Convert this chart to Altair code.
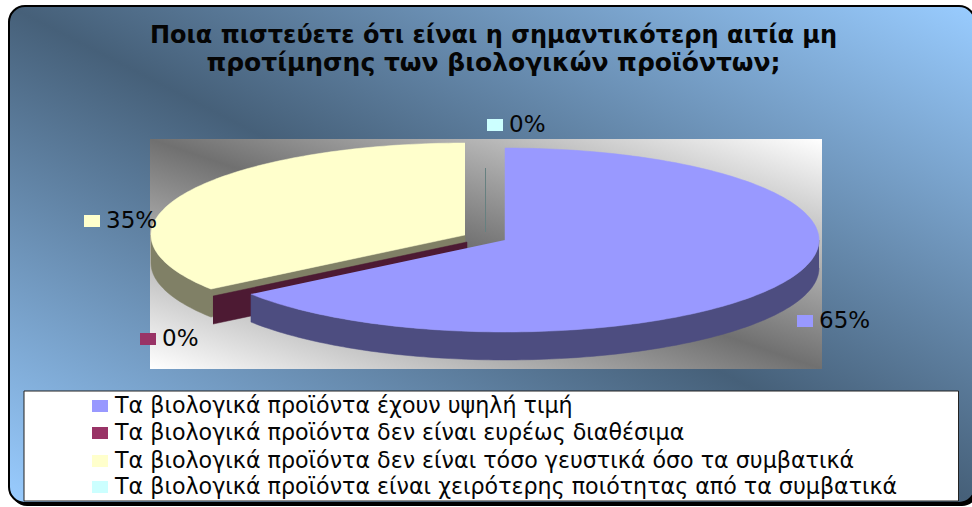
import math
import altair as alt
import pandas as pd

TITLE_LINES = [
    "Ποια πιστεύετε ότι είναι η σημαντικότερη αιτία μη",
    "προτίμησης των βιολογικών προϊόντων;",
]
CATEGORIES = [
    "Τα βιολογικά προϊόντα έχουν υψηλή τιμή",
    "Τα βιολογικά προϊόντα δεν είναι ευρέως διαθέσιμα",
    "Τα βιολογικά προϊόντα δεν είναι τόσο γευστικά όσο τα συμβατικά",
    "Τα βιολογικά προϊόντα είναι χειρότερης ποιότητας από τα συμβατικά",
]
SHARES = [65, 0, 35, 0]
TOP_COLORS = ["#9999FF", "#993366", "#FFFFCC", "#CCFFFF"]

WIDTH, HEIGHT = 972, 507

# Exploded-pie projection: each slice has its own apex on a flattened disc.
RX, RY, DEPTH = 314, 92, 28
APEX = [(505, 240), (467, 242), (465, 235), (485, 237)]
SIDE_COLORS = ["#4D4D80", "#4D1A33", "#808066", "#668080"]

# Percent labels: (key x, key y centre, text x)
PCT_LAYOUT = [(797, 321, 819), (140, 339, 162), (84, 221, 106), (487, 125, 509)]
LEGEND_ROWS = [406, 433, 461, 487]

x_scale = alt.Scale(domain=[0, WIDTH], range=[0, WIDTH])
y_scale = alt.Scale(domain=[0, HEIGHT], range=[0, HEIGHT])
one_row = pd.DataFrame({"i": [0]})


def rim(i, t0, t1, dy=0):
    """Points on the rim of slice i's disc between two clockwise angles."""
    n = max(2, int(abs(t1 - t0)))
    cx, cy = APEX[i]
    return [
        (cx + RX * math.sin(math.radians(t0 + (t1 - t0) * k / n)),
         cy + dy - RY * math.cos(math.radians(t0 + (t1 - t0) * k / n)))
        for k in range(n + 1)
    ]


def polygon(points, color):
    frame = pd.DataFrame(points, columns=["x", "y"]).assign(n=range(len(points)))
    return alt.Chart(frame).mark_line(
        filled=True, fill=color, stroke=color, strokeWidth=0.5, interpolate="linear"
    ).encode(
        x=alt.X("x:Q", scale=x_scale, axis=None),
        y=alt.Y("y:Q", scale=y_scale, axis=None),
        order="n:Q",
    )


def box(x0, x1, y0, y1, **style):
    return alt.Chart(one_row).mark_rect(**style).encode(
        x=alt.value(x0), x2=alt.value(x1), y=alt.value(y0), y2=alt.value(y1)
    )


def label(text, x, y, size, align="left", weight="normal"):
    return alt.Chart(pd.DataFrame({"t": [text]})).mark_text(
        font="DejaVu Sans", fontSize=size, align=align, baseline="middle",
        fontWeight=weight, color="#050505",
    ).encode(x=alt.value(x), y=alt.value(y), text="t:N")


def mirrored(edge, mid):
    return alt.LinearGradient(
        gradient="linear", x1=0, y1=1, x2=1, y2=0,
        stops=[
            alt.GradientStop(offset=0, color=edge),
            alt.GradientStop(offset=0.5, color=mid),
            alt.GradientStop(offset=1, color=edge),
        ],
    )


# Cumulative clockwise angles of the slices
angles = [0]
for share in SHARES:
    angles.append(angles[-1] + share * 3.6)

layers = [
    box(11, 978, 8, 506, fill="#000000", cornerRadius=16),
    box(9, 975, 6, 503, fill=mirrored("#99CCFF", "#466079"), stroke="#000000",
        strokeWidth=2, cornerRadius=16),
    box(150, 822, 139, 369, fill=mirrored("#FFFFFF", "#707070")),
]

# Yellow slice: outer wall and cut face
t0, t1 = angles[2], angles[3]
layers.append(polygon(rim(2, t0, 270) + rim(2, 270, t0, DEPTH), SIDE_COLORS[2]))
layers.append(polygon(
    [rim(2, t0, t0)[0], APEX[2], (APEX[2][0], APEX[2][1] + DEPTH), rim(2, t0, t0, DEPTH)[0]],
    SIDE_COLORS[2],
))

# Zero-width maroon slice: only its cut face shows
t = angles[1]
layers.append(polygon(
    [rim(1, t, t)[0], APEX[1], (APEX[1][0], APEX[1][1] + DEPTH), rim(1, t, t, DEPTH)[0]],
    SIDE_COLORS[1],
))

# Zero-width cyan slice: a hairline at the twelve o'clock edge
layers.append(alt.Chart(one_row).mark_rule(color=SIDE_COLORS[3], strokeWidth=1).encode(
    x=alt.value(485.5), y=alt.value(168), y2=alt.value(232)
))

# Blue slice: wall, then top
t0, t1 = angles[0], angles[1]
layers.append(polygon(rim(0, 90, t1) + rim(0, t1, 90, DEPTH), SIDE_COLORS[0]))
layers.append(polygon([APEX[0]] + rim(0, t0, t1), TOP_COLORS[0]))

# Yellow top
layers.append(polygon([APEX[2]] + rim(2, angles[2], angles[3]), TOP_COLORS[2]))

# Percent labels with their colour keys
for share, color, (kx, ky, tx) in zip(SHARES, TOP_COLORS, PCT_LAYOUT):
    layers.append(box(kx, kx + 16, ky - 6, ky + 6, fill=color))
    layers.append(label(f"{share}%", tx, ky, 23))

# Title
layers.append(label(TITLE_LINES[0], 493.5, 36, 24, "center", "bold"))
layers.append(label(TITLE_LINES[1], 493.5, 63, 25, "center", "bold"))

# Legend
layers.append(box(24, 958.5, 391, 501, fill="#FFFFFF", stroke="#222222", strokeWidth=1))
for name, color, y in zip(CATEGORIES, TOP_COLORS, LEGEND_ROWS):
    layers.append(box(92, 108, y - 6, y + 6, fill=color))
    layers.append(label(name, 115, y, 22.2))

chart = alt.layer(*layers).properties(
    width=WIDTH, height=HEIGHT, padding=0,
    autosize=alt.AutoSizeParams(type="none"),
    background="#FFFFFF",
).configure_view(stroke=None)

chart.save("out.html", embed_options={"renderer": "svg", "actions": False})
